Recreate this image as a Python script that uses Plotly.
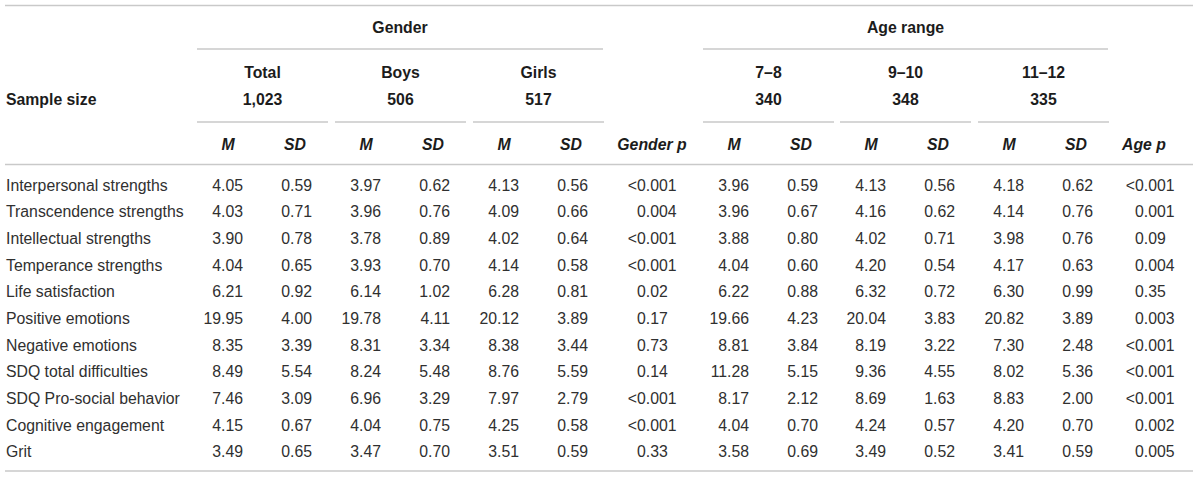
import plotly.graph_objects as go

# ---- table data ----
measures = [
    "Interpersonal strengths", "Transcendence strengths", "Intellectual strengths",
    "Temperance strengths", "Life satisfaction", "Positive emotions",
    "Negative emotions", "SDQ total difficulties", "SDQ Pro-social behavior",
    "Cognitive engagement", "Grit",
]

groups = ["Gender", "Age range"]
subgroups = ["Total", "Boys", "Girls", "7–8", "9–10", "11–12"]
sample_sizes = [1023, 506, 517, 340, 348, 335]

total_m = [4.05, 4.03, 3.90, 4.04, 6.21, 19.95, 8.35, 8.49, 7.46, 4.15, 3.49]
total_sd = [0.59, 0.71, 0.78, 0.65, 0.92, 4.00, 3.39, 5.54, 3.09, 0.67, 0.65]
boys_m = [3.97, 3.96, 3.78, 3.93, 6.14, 19.78, 8.31, 8.24, 6.96, 4.04, 3.47]
boys_sd = [0.62, 0.76, 0.89, 0.70, 1.02, 4.11, 3.34, 5.48, 3.29, 0.75, 0.70]
girls_m = [4.13, 4.09, 4.02, 4.14, 6.28, 20.12, 8.38, 8.76, 7.97, 4.25, 3.51]
girls_sd = [0.56, 0.66, 0.64, 0.58, 0.81, 3.89, 3.44, 5.59, 2.79, 0.58, 0.59]
gender_p = ["<0.001", "0.004", "<0.001", "<0.001", "0.02", "0.17",
            "0.73", "0.14", "<0.001", "<0.001", "0.33"]
age78_m = [3.96, 3.96, 3.88, 4.04, 6.22, 19.66, 8.81, 11.28, 8.17, 4.04, 3.58]
age78_sd = [0.59, 0.67, 0.80, 0.60, 0.88, 4.23, 3.84, 5.15, 2.12, 0.70, 0.69]
age910_m = [4.13, 4.16, 4.02, 4.20, 6.32, 20.04, 8.19, 9.36, 8.69, 4.24, 3.49]
age910_sd = [0.56, 0.62, 0.71, 0.54, 0.72, 3.83, 3.22, 4.55, 1.63, 0.57, 0.52]
age1112_m = [4.18, 4.14, 3.98, 4.17, 6.30, 20.82, 7.30, 8.02, 8.83, 4.20, 3.41]
age1112_sd = [0.62, 0.76, 0.76, 0.63, 0.99, 3.89, 2.48, 5.36, 2.00, 0.70, 0.59]
age_p = ["<0.001", "0.001", "0.09", "0.004", "0.35", "0.003",
         "<0.001", "<0.001", "<0.001", "0.002", "0.005"]

m_cols = [total_m, boys_m, girls_m, age78_m, age910_m, age1112_m]
sd_cols = [total_sd, boys_sd, girls_sd, age78_sd, age910_sd, age1112_sd]

# ---- layout (pixel units, axes span the whole page) ----
W, H = 1200, 478
FONT = "Liberation Sans, Arial, Helvetica, sans-serif"
TEXT_COLOR = "#303030"
HEAD_COLOR = "#1c1c1c"
RULE_COLOR = "#c9c9c9"
SIZE = 15.8

block_x0 = [197, 335, 473, 703, 840, 978]
block_w = 131
group_spans = [(197, 603), (703, 1108)]
gender_p_x = 637
age_p_x = 1135
label_x = 6
left_x, right_x = 5, 1193

# text y positions (slightly below the measured centres, plotly's "middle" sits a bit high)
dy = 2
y_group, y_group_rule = 27, 49
y_sub, y_n, y_sub_rule = 72, 99, 122
y_head, y_head_rule = 144, 164.5
row_y0, row_step = 184.6, 26.67
y_top, y_bottom = 5.5, 471

ys = [row_y0 + dy + i * row_step for i in range(len(measures))]
n = len(measures)

fig = go.Figure()


def add_text(x, y, text, pos, bold=False):
    fig.add_trace(go.Scatter(
        x=x, y=y, text=text, mode="text", textposition=pos,
        textfont=dict(family=FONT, size=SIZE,
                      color=HEAD_COLOR if bold else TEXT_COLOR),
        hoverinfo="skip", showlegend=False, cliponaxis=False,
    ))


# group headers
add_text([(a + b) / 2 for a, b in group_spans], [y_group + dy] * 2,
         [f"<b>{g}</b>" for g in groups], "middle center", bold=True)

# subgroup names and sample sizes
mids = [x0 + block_w / 2 for x0 in block_x0]
add_text(mids, [y_sub + dy] * 6, [f"<b>{s}</b>" for s in subgroups], "middle center", bold=True)
add_text(mids, [y_n + dy] * 6, [f"<b>{v:,}</b>" for v in sample_sizes], "middle center", bold=True)
add_text([label_x], [y_n + dy], ["<b>Sample size</b>"], "middle right", bold=True)

# M / SD column heads
add_text([x0 + 31 for x0 in block_x0], [y_head + dy] * 6, ["<b><i>M</i></b>"] * 6,
         "middle center", bold=True)
add_text([x0 + 98 for x0 in block_x0], [y_head + dy] * 6, ["<b><i>SD</i></b>"] * 6,
         "middle center", bold=True)
add_text([gender_p_x + 15, age_p_x + 9], [y_head + dy] * 2,
         ["<b><i>Gender p</i></b>", "<b><i>Age p</i></b>"], "middle center", bold=True)

# row labels
add_text([label_x] * n, ys, measures, "middle right")

# means and SDs, right aligned inside each block
for x0, m_vals, sd_vals in zip(block_x0, m_cols, sd_cols):
    add_text([x0 + 46] * n, ys, [f"{v:.2f}" for v in m_vals], "middle left")
    add_text([x0 + 115] * n, ys, [f"{v:.2f}" for v in sd_vals], "middle left")

# p values, aligned on the leading zero
for px, vals in [(gender_p_x, gender_p), (age_p_x, age_p)]:
    prefix = ["<" if v.startswith("<") else "" for v in vals]
    number = [v.lstrip("<") for v in vals]
    add_text([px] * n, ys, prefix, "middle left")
    add_text([px] * n, ys, number, "middle right")

# horizontal rules
rules = [(left_x, right_x, y_top), (left_x, right_x, y_head_rule), (left_x, right_x, y_bottom)]
rules += [(a, b, y_group_rule) for a, b in group_spans]
rules += [(x0, x0 + block_w, y_sub_rule) for x0 in block_x0]
for xa, xb, yy in rules:
    fig.add_shape(type="line", xref="x", yref="y", x0=xa, x1=xb, y0=yy, y1=yy,
                  line=dict(color=RULE_COLOR, width=1.6))

fig.update_layout(
    width=W, height=H,
    margin=dict(l=0, r=0, t=0, b=0),
    paper_bgcolor="white", plot_bgcolor="white",
    xaxis=dict(range=[0, W], visible=False, fixedrange=True),
    yaxis=dict(range=[H, 0], visible=False, fixedrange=True),
)

# the page body has a default 8px margin; drop it so the table sits at the origin
fig.write_html("out.html", config={"displayModeBar": False},
               post_script="document.body.style.margin='0';")
